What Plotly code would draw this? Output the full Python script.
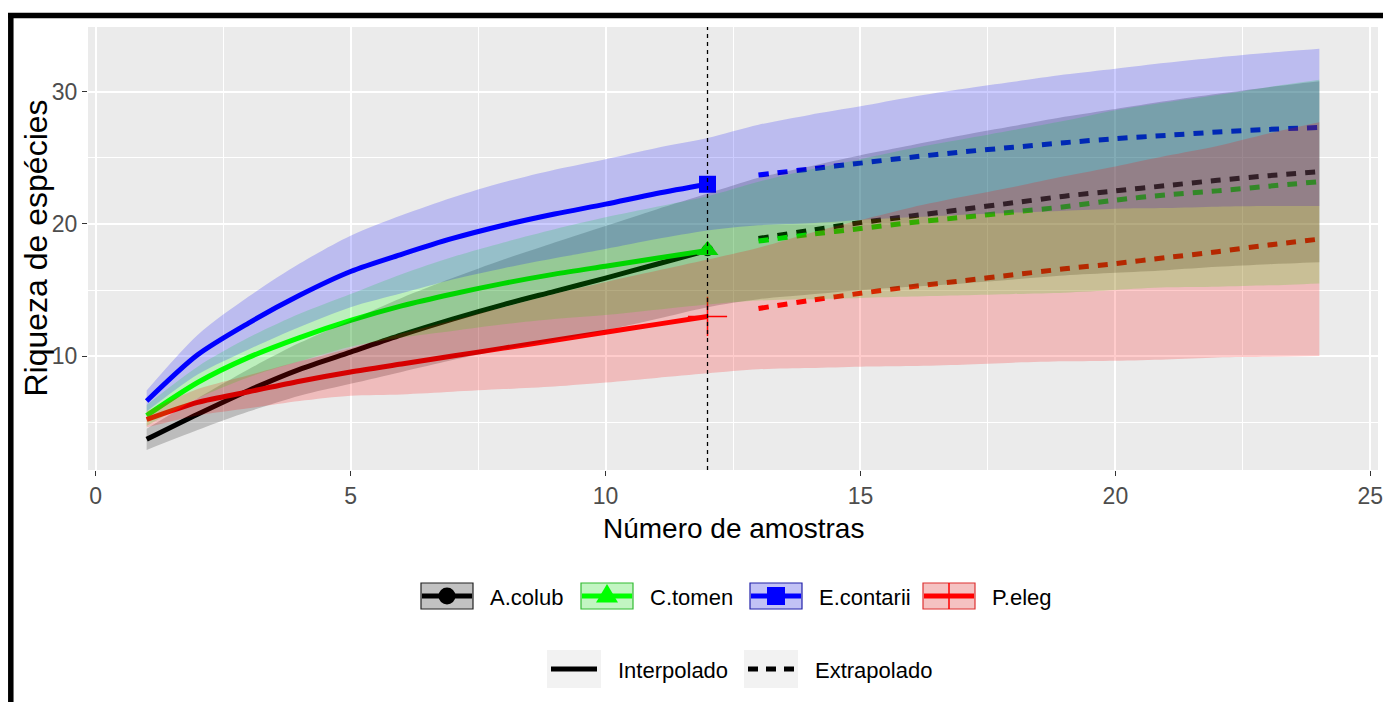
import plotly.graph_objects as go

# ---------------------------------------------------------------- data
samples = list(range(1, 25))          # número de amostras (1..24)
n_observed = 12                       # tamanho amostral de referência

species = ["A.colub", "C.tomen", "E.contarii", "P.eleg"]

# estimated species richness per number of samples
rich_a_colub = [3.7, 5.6, 7.4, 9.0, 10.3, 11.6, 12.8, 13.9, 14.9, 15.9, 16.95, 18.0,
                18.9, 19.5, 20.1, 20.6, 21.1, 21.6, 22.1, 22.5, 22.9, 23.3, 23.65, 23.95]
rich_c_tomen = [5.5, 8.0, 9.9, 11.4, 12.7, 13.8, 14.7, 15.5, 16.2, 16.8, 17.4, 18.0,
                18.7, 19.2, 19.65, 20.1, 20.5, 20.9, 21.3, 21.8, 22.2, 22.5, 22.85, 23.2]
rich_e_contarii = [6.6, 10.1, 12.5, 14.6, 16.4, 17.7, 18.9, 19.9, 20.75, 21.5, 22.3, 23.0,
                   23.7, 24.15, 24.6, 25.05, 25.45, 25.8, 26.15, 26.45, 26.7, 26.95, 27.15, 27.3]
rich_p_eleg = [5.2, 6.5, 7.3, 8.1, 8.8, 9.4, 10.0, 10.6, 11.2, 11.8, 12.4, 13.0,
               13.6, 14.2, 14.75, 15.25, 15.7, 16.15, 16.6, 17.0, 17.45, 17.9, 18.4, 18.85]

# half width of the 95% confidence band
ci_a_colub = [0.8, 1.2, 1.6, 2.0, 2.4, 2.8, 3.1, 3.4, 3.7, 3.95, 4.15, 4.3,
              4.6, 4.85, 5.1, 5.35, 5.6, 5.8, 6.0, 6.2, 6.4, 6.55, 6.7, 6.85]
ci_c_tomen = [0.8, 1.2, 1.5, 1.8, 2.0, 2.4, 2.8, 3.1, 3.4, 3.7, 3.9, 4.1,
              4.5, 4.9, 5.25, 5.6, 5.9, 6.2, 6.5, 6.8, 7.0, 7.25, 7.5, 7.7]
ci_e_contarii = [0.8, 1.5, 2.0, 2.4, 2.7, 2.95, 3.1, 3.25, 3.35, 3.4, 3.45, 3.5,
                 3.8, 4.1, 4.3, 4.55, 4.75, 4.95, 5.15, 5.3, 5.5, 5.65, 5.8, 5.95]
ci_p_eleg = [0.6, 1.0, 1.25, 1.5, 1.8, 2.3, 2.7, 3.1, 3.5, 3.8, 4.05, 4.3,
             4.6, 5.1, 5.55, 6.0, 6.35, 6.65, 7.0, 7.35, 7.7, 8.0, 8.45, 8.85]

method_labels = ["Interpolado", "Extrapolado"]
x_ticks = [0, 5, 10, 15, 20, 25]
y_ticks = [10, 20, 30]
x_title = "Número de amostras"
y_title = "Riqueza de espécies"

richness = dict(zip(species, [rich_a_colub, rich_c_tomen, rich_e_contarii, rich_p_eleg]))
half_ci = dict(zip(species, [ci_a_colub, ci_c_tomen, ci_e_contarii, ci_p_eleg]))

# ---------------------------------------------------------------- style
line_colors = ["#000000", "#00FF00", "#0000FF", "#FF0000"]
band_colors = ["rgba(0,0,0,0.2)", "rgba(0,255,0,0.2)", "rgba(0,0,255,0.2)", "rgba(255,0,0,0.2)"]
key_fills = ["#C2C2C2", "#C2F5C2", "#C2C2F5", "#F5C2C2"]
key_borders = ["#222222", "#33BB33", "#2222AA", "#DD3333"]
symbols = ["circle", "triangle-up", "square", "cross-thin"]
symbol_sizes = [12, 19, 17, 28]
FONT = "Liberation Sans, Arial, sans-serif"

W, H = 1383, 702
ML, MR, MT, MB = 88, 5, 27, 232
PW, PH = W - ML - MR, H - MT - MB


def pxx(p):
    return (p - ML) / PW


def pxy(p):
    return (H - MB - p) / PH


fig = go.Figure()

# curves: solid interpolation, dashed extrapolation
for sp, col in zip(species, line_colors):
    y = richness[sp]
    fig.add_trace(go.Scatter(x=samples[:n_observed], y=y[:n_observed], mode="lines",
                             line=dict(color=col, width=5, shape="spline", smoothing=0.8),
                             showlegend=False, hoverinfo="skip"))
    fig.add_trace(go.Scatter(x=samples[n_observed:], y=y[n_observed:], mode="lines",
                             line=dict(color=col, width=5, dash="10px,9px", shape="spline", smoothing=0.8),
                             showlegend=False, hoverinfo="skip"))

# observed points
for sp, col, sym, sz in zip(species, line_colors, symbols, symbol_sizes):
    y = richness[sp]
    fig.add_trace(go.Scatter(x=[samples[n_observed - 1]], y=[y[n_observed - 1]], mode="markers",
                             marker=dict(symbol=sym, size=sz, color=col,
                                         line=dict(color=col, width=1.5 if sym == "cross-thin" else 0)),
                             showlegend=False, hoverinfo="skip"))

# confidence bands drawn over the curves
for sp, fc in zip(species, band_colors):
    y = richness[sp]
    h = half_ci[sp]
    upper = [m + d for m, d in zip(y, h)]
    lower = [m - d for m, d in zip(y, h)]
    fig.add_trace(go.Scatter(x=samples, y=upper, mode="lines",
                             line=dict(width=0, shape="spline", smoothing=0.8),
                             showlegend=False, hoverinfo="skip"))
    fig.add_trace(go.Scatter(x=samples, y=lower, mode="lines",
                             line=dict(width=0, shape="spline", smoothing=0.8),
                             fill="tonexty", fillcolor=fc, showlegend=False, hoverinfo="skip"))

shapes = []
annotations = []

# reference sample size
shapes.append(dict(type="line", xref="x", yref="y domain", x0=n_observed, x1=n_observed, y0=0, y1=1,
                   line=dict(color="black", width=1.3, dash="4px,4px"), layer="above"))

# outer frame (top and left edges)
shapes.append(dict(type="line", xref="paper", yref="paper", x0=pxx(8), x1=pxx(W), y0=pxy(15.5), y1=pxy(15.5),
                   line=dict(color="black", width=5.5), layer="above"))
shapes.append(dict(type="line", xref="paper", yref="paper", x0=pxx(10.8), x1=pxx(10.8), y0=pxy(13), y1=pxy(H),
                   line=dict(color="black", width=5.5), layer="above"))


def rect(x0, y0, x1, y1, fill, border=None, width=1):
    return dict(type="rect", xref="paper", yref="paper", x0=pxx(x0), x1=pxx(x1), y0=pxy(y1), y1=pxy(y0),
                fillcolor=fill, line=dict(color=border or fill, width=width if border else 0), layer="above")


def seg(x0, y0, x1, y1, color, width, dash=None):
    ln = dict(color=color, width=width)
    if dash:
        ln["dash"] = dash
    return dict(type="line", xref="paper", yref="paper", x0=pxx(x0), x1=pxx(x1), y0=pxy(y0), y1=pxy(y1),
                line=ln, layer="above")


def text(x, y, s, size=22, color="black"):
    return dict(xref="paper", yref="paper", x=pxx(x), y=pxy(y), text=s, showarrow=False,
                xanchor="left", yanchor="middle", font=dict(family=FONT, size=size, color=color))


# legend, first row: species
row1_y = 596
key_w, key_h = 52, 26
key_left = [421, 581, 750, 923]
for i, sp in enumerate(species):
    x0 = key_left[i]
    x1 = x0 + key_w
    cx, cy = (x0 + x1) / 2, row1_y
    shapes.append(rect(x0, cy - key_h / 2, x1, cy + key_h / 2, key_fills[i], key_borders[i], 1.2))
    shapes.append(seg(x0 + 1, cy, x1 - 1, cy, line_colors[i], 5))
    sym = symbols[i]
    if sym == "circle":
        r = 8.5
        shapes.append(dict(type="circle", xref="paper", yref="paper", x0=pxx(cx - r), x1=pxx(cx + r),
                           y0=pxy(cy + r), y1=pxy(cy - r), fillcolor=line_colors[i],
                           line=dict(width=0), layer="above"))
    elif sym == "triangle-up":
        pts = [(cx - 11, cy + 6.5), (cx + 11, cy + 6.5), (cx, cy - 12)]
        path = "M " + " L ".join(f"{pxx(a)} {pxy(b)}" for a, b in pts) + " Z"
        shapes.append(dict(type="path", xref="paper", yref="paper", path=path,
                           fillcolor=line_colors[i], line=dict(width=0), layer="above"))
    elif sym == "square":
        shapes.append(rect(cx - 9, cy - 9, cx + 9, cy + 9, line_colors[i]))
    else:
        shapes.append(seg(cx, cy - key_h / 2, cx, cy + key_h / 2, line_colors[i], 1.5))
    annotations.append(text(x1 + 15, cy + 1, sp))

# legend, second row: method
row2_y = 669
method_left = [547, 744]
method_dash = [None, "10px,8px"]
for i, lab in enumerate(method_labels):
    x0 = method_left[i]
    x1 = x0 + 54
    shapes.append(rect(x0, row2_y - 19, x1, row2_y + 19, "#F2F2F2"))
    shapes.append(seg(x0 + 4, row2_y, x1 - 4, row2_y, "black", 5, method_dash[i]))
    annotations.append(text(x1 + 15, row2_y + 1, lab))

# axis titles
annotations.append(dict(xref="paper", yref="paper", x=pxx((ML + W - MR) / 2), y=pxy(528), text=x_title,
                        showarrow=False, xanchor="center", yanchor="middle",
                        font=dict(family=FONT, size=28, color="black")))
annotations.append(dict(xref="paper", yref="paper", x=pxx(35), y=pxy((MT + H - MB) / 2), text=y_title,
                        showarrow=False, xanchor="center", yanchor="middle", textangle=-90,
                        font=dict(family=FONT, size=32, color="black")))

axis_common = dict(showline=False, zeroline=False, showgrid=True, gridcolor="white", gridwidth=2,
                   ticks="outside", ticklen=5, tickwidth=1.3, tickcolor="#333333",
                   ticklabeloverflow="allow",
                   tickfont=dict(family=FONT, size=23, color="#4D4D4D"))

fig.update_layout(
    width=W, height=H,
    margin=dict(l=ML, r=MR, t=MT, b=MB, autoexpand=False),
    paper_bgcolor="white", plot_bgcolor="#EBEBEB",
    showlegend=False,
    shapes=shapes, annotations=annotations,
    xaxis=dict(range=[-0.15, 25.15], tickvals=x_ticks, automargin=False,
               minor=dict(dtick=2.5, tick0=0, showgrid=True, gridcolor="white", gridwidth=1, ticks=""),
               **axis_common),
    yaxis=dict(range=[1.38, 34.9], tickvals=y_ticks, automargin=False,
               minor=dict(dtick=5, tick0=0, showgrid=True, gridcolor="white", gridwidth=1, ticks=""),
               **axis_common),
)

fig.write_html("out.html")
